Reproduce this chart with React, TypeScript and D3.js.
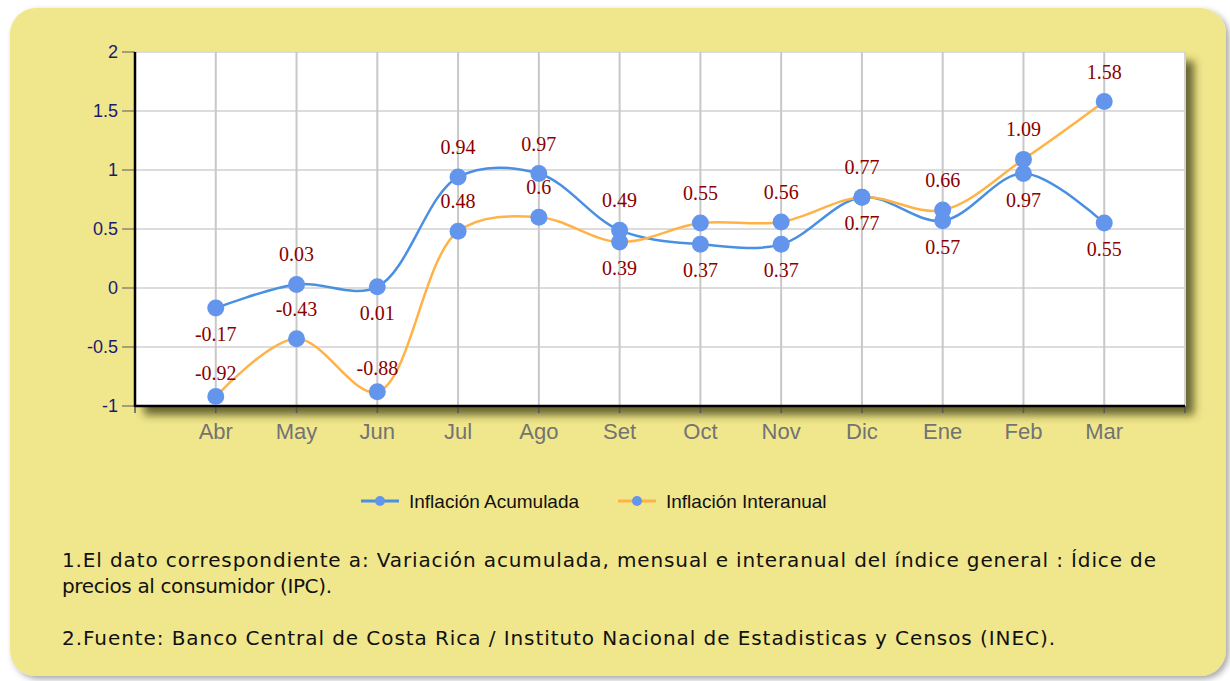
import React from "react";
import * as d3 from "d3";

const months = ["Abr", "May", "Jun", "Jul", "Ago", "Set", "Oct", "Nov", "Dic", "Ene", "Feb", "Mar"];
const acumulada = [-0.17, 0.03, 0.01, 0.94, 0.97, 0.49, 0.37, 0.37, 0.77, 0.57, 0.97, 0.55];
const interanual = [-0.92, -0.43, -0.88, 0.48, 0.6, 0.39, 0.55, 0.56, 0.77, 0.66, 1.09, 1.58];
// which value labels sit under their point
const acumLabelBelow = [true, false, true, false, false, false, true, true, true, true, true, true];
const interLabelBelow = [false, false, false, false, false, true, false, false, false, false, false, false];
const yTicks = [-1, -0.5, 0, 0.5, 1, 1.5, 2];
const seriesNames = ["Inflación Acumulada", "Inflación Interanual"];
const notes = [
  "1.El dato correspondiente a: Variación acumulada, mensual e interanual del índice general : Ídice de",
  "precios al consumidor (IPC).",
  "",
  "2.Fuente: Banco Central de Costa Rica / Instituto Nacional de Estadisticas y Censos (INEC).",
];
const noteWidths = [1094, 270, 0, 993];

const W = 1230;
const H = 681;
const plot = { left: 135, top: 52, right: 1185, bottom: 406 };
const blue = "#4a90e2";
const orange = "#ffb347";
const dotColor = "#6495ed";

const App = () => {
  const x = d3.scalePoint().domain(months).range([plot.left, plot.right]).padding(1);
  const y = d3.scaleLinear().domain([-1, 2]).range([plot.bottom, plot.top]);

  const line = d3
    .line<number>()
    .x((d, i) => x(months[i]) as number)
    .y((d) => y(d))
    .curve(d3.curveCatmullRom.alpha(0.5));

  const series = [
    { name: seriesNames[0], values: acumulada, color: blue, below: acumLabelBelow },
    { name: seriesNames[1], values: interanual, color: orange, below: interLabelBelow },
  ];

  // labels close to the bottom edge are held a bit lower
  const labelY = (v: number, below: boolean) => {
    const py = y(v);
    if (below) return py + 33;
    return py > plot.bottom - 20 ? py - 17 : py - 23;
  };

  return (
    <div style={{ position: "absolute", left: 0, top: 0 }}>
      <svg width={W} height={H}>
        <defs>
          <filter id="panelShadow" x="-5%" y="-5%" width="110%" height="110%">
            <feDropShadow dx="3" dy="3" stdDeviation="3" floodColor="#000" floodOpacity="0.35" />
          </filter>
          <filter id="plotShadow" x="-5%" y="-5%" width="115%" height="120%">
            <feDropShadow dx="9" dy="9" stdDeviation="4" floodColor="#3a3a10" floodOpacity="0.75" />
          </filter>
        </defs>

        <rect x={10} y={8} width={1216} height={668} rx={26} fill="#f0e68c" filter="url(#panelShadow)" />

        <rect
          x={plot.left}
          y={plot.top}
          width={plot.right - plot.left}
          height={plot.bottom - plot.top}
          fill="#fff"
          filter="url(#plotShadow)"
        />

        {/* grid */}
        {yTicks.map((t) => (
          <line key={"h" + t} x1={plot.left} x2={plot.right} y1={y(t)} y2={y(t)} stroke="#dcdcdc" strokeWidth={2} />
        ))}
        {months.map((m) => (
          <line key={"v" + m} x1={x(m)} x2={x(m)} y1={plot.top} y2={plot.bottom} stroke="#c8c8c8" strokeWidth={2} />
        ))}
        <line x1={plot.right} x2={plot.right} y1={plot.top} y2={plot.bottom} stroke="#d4d4d4" strokeWidth={2} />

        {/* axes */}
        {yTicks.map((t) => (
          <g key={"yt" + t}>
            <line x1={plot.left - 13} x2={plot.left} y1={y(t)} y2={y(t)} stroke="#8a8a6a" strokeWidth={1.5} />
            <text
              x={plot.left - 17}
              y={y(t)}
              dy="0.35em"
              textAnchor="end"
              fontFamily="Arial, 'Liberation Sans', sans-serif"
              fontSize={18}
              fill="#1a1a72"
            >
              {t}
            </text>
          </g>
        ))}
        {[plot.left, ...months.map((m) => x(m) as number), plot.right].map((px, i) => (
          <line key={"xt" + i} x1={px} x2={px} y1={plot.bottom} y2={plot.bottom + 7} stroke="#555" strokeWidth={1.5} />
        ))}
        {months.map((m) => (
          <text
            key={"xl" + m}
            x={x(m)}
            y={439}
            textAnchor="middle"
            fontFamily="Arial, 'Liberation Sans', sans-serif"
            fontSize={22}
            fill="#737373"
          >
            {m}
          </text>
        ))}
        <line x1={plot.left} x2={plot.left} y1={plot.top} y2={plot.bottom + 1} stroke="#000" strokeWidth={2.5} />
        <line x1={plot.left} x2={plot.right} y1={plot.bottom} y2={plot.bottom} stroke="#000" strokeWidth={2.5} />

        {/* lines */}
        {series.map((s) => (
          <path key={s.name} d={line(s.values) || ""} fill="none" stroke={s.color} strokeWidth={2.5} />
        ))}
        {series.map((s) =>
          s.values.map((v, i) => (
            <circle key={s.name + i} cx={x(months[i])} cy={y(v)} r={8.5} fill={dotColor} />
          ))
        )}
        {series.map((s) =>
          s.values.map((v, i) => (
            <text
              key={"lab" + s.name + i}
              x={x(months[i])}
              y={labelY(v, s.below[i])}
              textAnchor="middle"
              fontFamily="'Times New Roman', 'Liberation Serif', serif"
              fontSize={20}
              fill="#8b0000"
            >
              {v}
            </text>
          ))
        )}

        {/* legend */}
        {series.map((s, i) => {
          const lx = i === 0 ? 361 : 618;
          return (
            <g key={"lg" + s.name}>
              <line x1={lx} x2={lx + 38} y1={501} y2={501} stroke={s.color} strokeWidth={3} />
              <circle cx={lx + 19} cy={501} r={5} fill={dotColor} />
              <text
                x={lx + 48}
                y={501}
                dy="0.35em"
                fontFamily="Arial, 'Liberation Sans', sans-serif"
                fontSize={19}
                fill="#111"
              >
                {s.name}
              </text>
            </g>
          );
        })}

        {/* notes */}
        {notes.map((n, i) =>
          n ? (
            <text
              key={"n" + i}
              x={62}
              y={567 + i * 26}
              fontFamily="DejaVu Sans, Verdana, sans-serif"
              fontSize={20}
              textLength={noteWidths[i]}
              lengthAdjust="spacing"
              fill="#111"
            >
              {n}
            </text>
          ) : null
        )}
      </svg>
    </div>
  );
};

export default App;
